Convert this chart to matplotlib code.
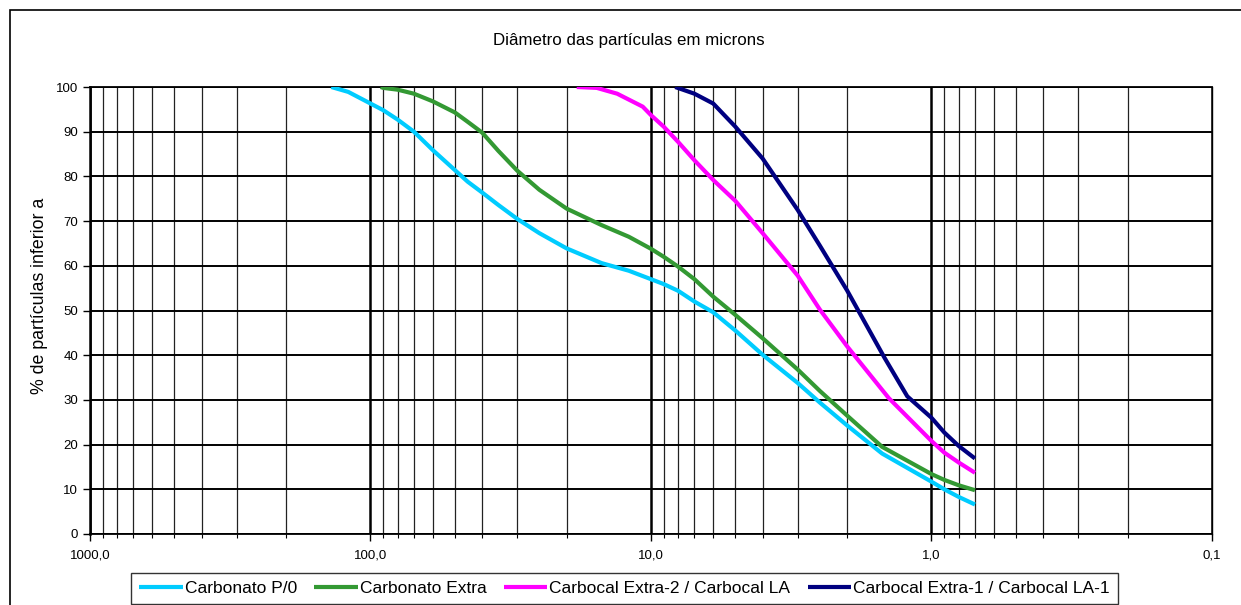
import matplotlib
matplotlib.use("Agg")
import matplotlib.pyplot as plt
from matplotlib.patches import Rectangle
from matplotlib.ticker import FixedLocator, LogLocator, FuncFormatter, NullFormatter

plt.rcParams['font.family'] = ['Liberation Sans', 'DejaVu Sans']

# particle size distributions (diameter in microns, % finer)
x_p0 = [138, 120, 100, 90, 80, 70, 60, 50, 45, 40, 35, 30, 25, 20, 15, 12, 10, 9, 8, 7, 6, 5, 4, 3, 2.5, 2,
        1.5, 1, 0.9, 0.8, 0.7]
y_p0 = [100, 98.9, 96.3, 94.8, 92.7, 90.0, 85.9, 81.4, 78.8, 76.4, 73.6, 70.5, 67.3, 63.9, 60.6, 58.9, 57.0,
        55.9, 54.4, 52.0, 49.6, 45.5, 40.1, 33.8, 29.4, 24.3, 18.0, 11.7, 10.0, 8.3, 6.6]

x_extra = [92, 90, 80, 70, 60, 50, 45, 40, 35, 30, 25, 20, 15, 12, 10, 9, 8, 7, 6, 5, 4, 3, 2.5, 2, 1.5, 1,
           0.9, 0.8, 0.7]
y_extra = [100, 99.8, 99.4, 98.5, 96.8, 94.3, 92.2, 89.8, 85.7, 81.3, 77.0, 72.8, 69.1, 66.5, 63.8, 62.0,
           59.8, 57.0, 53.1, 49.0, 43.8, 36.8, 32.0, 26.5, 19.5, 13.4, 12.1, 10.9, 9.8]

x_la = [18.4, 15.6, 13.2, 10.7, 10, 9, 8, 7, 6, 5, 4, 3, 2.5, 2, 1.42, 1, 0.9, 0.8, 0.7]
y_la = [100, 99.8, 98.5, 95.6, 93.7, 91.1, 87.7, 83.6, 79.2, 74.5, 67.3, 57.8, 50.2, 42.0, 30.4, 20.8, 18.2,
        16.0, 13.7]

x_la1 = [8.2, 7, 6, 5, 4, 3, 2.5, 2, 1.47, 1.22, 1, 0.9, 0.8, 0.7]
y_la1 = [100, 98.5, 96.3, 91.1, 84.0, 72.5, 64.5, 54.5, 39.4, 30.8, 26.0, 22.7, 19.7, 16.9]

series = [
    (x_p0, y_p0, '#00CCFF', 'Carbonato P/0'),
    (x_extra, y_extra, '#339933', 'Carbonato Extra'),
    (x_la, y_la, '#FF00FF', 'Carbocal Extra-2 / Carbocal LA'),
    (x_la1, y_la1, '#000080', 'Carbocal Extra-1 / Carbocal LA-1'),
]

W, H = 1241, 605
fig = plt.figure(figsize=(W / 100, H / 100), dpi=100)
ax = fig.add_axes([90 / W, 1 - 534 / H, (1212 - 90) / W, (534 - 87) / H])

for xs, ys, c, lab in series:
    ax.plot(xs, ys, color=c, lw=3, label=lab, solid_joinstyle='round', solid_capstyle='butt', zorder=3)

ax.set_xscale('log')
ax.set_xlim(1000, 0.1)
ax.set_ylim(0, 100)
ax.yaxis.set_major_locator(FixedLocator(range(0, 101, 10)))
ax.xaxis.set_major_locator(FixedLocator([1000, 100, 10, 1, 0.1]))
ax.xaxis.set_minor_locator(LogLocator(base=10, subs=range(2, 10), numticks=50))
ax.xaxis.set_minor_formatter(NullFormatter())
ax.xaxis.set_major_formatter(FuncFormatter(lambda v, p: ('%.1f' % v).replace('.', ',')))

ax.grid(which='major', axis='x', color='black', lw=1.8)
ax.grid(which='minor', axis='x', color='#222222', lw=0.9)
ax.grid(which='major', axis='y', color='black', lw=1.4)

ax.tick_params(axis='both', which='major', direction='out', length=5, width=1, labelsize=9.5, colors='black')
ax.tick_params(axis='x', which='minor', direction='out', length=3, width=0.8)
ax.tick_params(axis='x', which='major', pad=6)

ax.spines['left'].set_linewidth(1.8)
ax.spines['bottom'].set_linewidth(1.3)
ax.spines['top'].set_linewidth(1.3)
ax.spines['right'].set_linewidth(1.0)

# outer chart border
fig.patches.append(Rectangle((10 / W, -0.1), 1.2, 1.1 - 10.5 / H, transform=fig.transFigure,
                             fill=False, edgecolor='black', lw=1.2))

fig.text(629 / W, 1 - 40 / H, 'Diâmetro das partículas em microns', ha='center', va='center', fontsize=12.2)
fig.text(40 / W, 1 - 296 / H, '% de partículas inferior a', ha='center', va='center',
         rotation=90, fontsize=12.8)

leg = fig.legend(loc='upper center', bbox_to_anchor=(624.5 / W, 1 - 573 / H), ncol=4, fontsize=12.5,
                 frameon=True, fancybox=False, edgecolor='black', handlelength=2.5,
                 handletextpad=0.12, columnspacing=1.0, borderpad=0.45, borderaxespad=0)
leg.get_frame().set_linewidth(1.0)

fig.savefig('out.png', dpi=100)
